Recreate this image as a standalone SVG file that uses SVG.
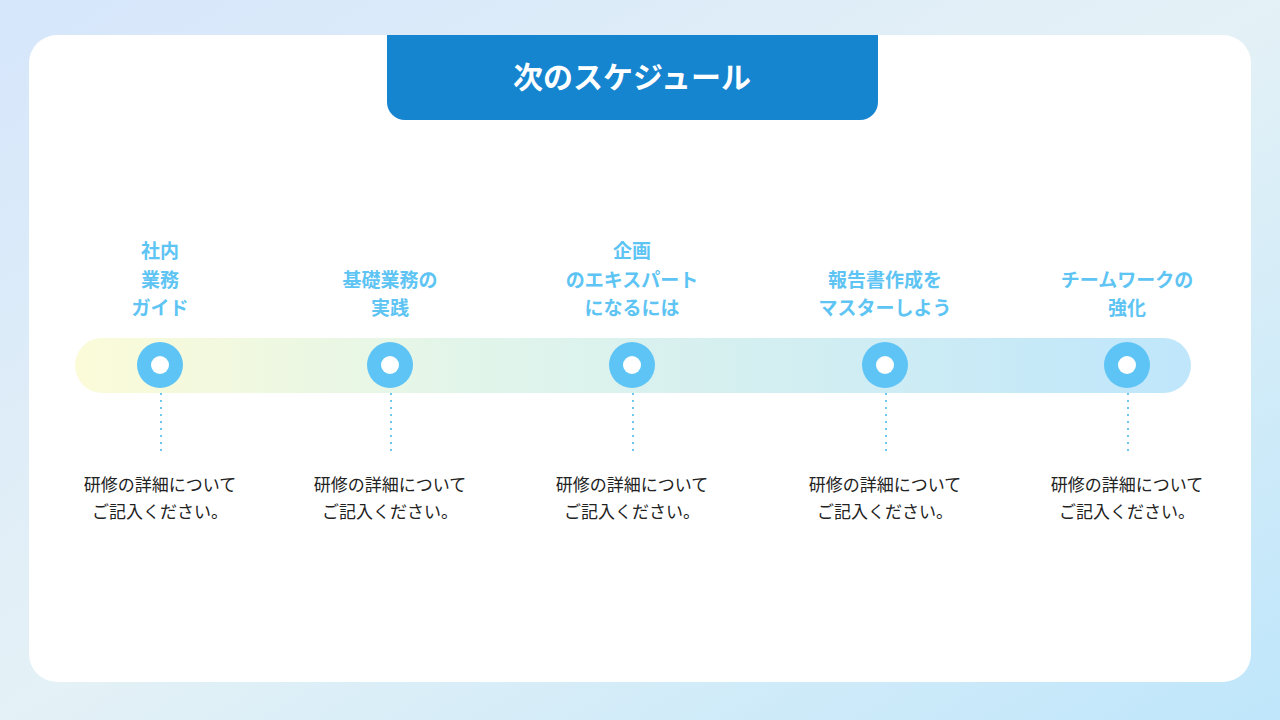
<svg xmlns="http://www.w3.org/2000/svg" width="1280" height="720" viewBox="0 0 1280 720">
<defs>
<linearGradient id="bg" x1="0" y1="0" x2="1" y2="1"><stop offset="0" stop-color="#d6e6fb"/><stop offset="0.5" stop-color="#e4f1f6"/><stop offset="1" stop-color="#bfe6fb"/></linearGradient>
<linearGradient id="band" x1="0" y1="0" x2="1" y2="0"><stop offset="0" stop-color="#fbfbd8"/><stop offset="0.35" stop-color="#e2f5ea"/><stop offset="1" stop-color="#bfe6fb"/></linearGradient>
<style>
.t{font-family:"Noto Sans CJK JP",sans-serif;font-weight:700;font-size:19px;fill:#5ec4f3;text-anchor:middle}
.d{font-family:"Noto Sans CJK JP",sans-serif;font-size:17px;fill:#222;text-anchor:middle}
.dot{stroke:#6cc8ef;stroke-width:2;stroke-dasharray:2 5}
</style>
</defs>
<rect width="1280" height="720" fill="url(#bg)"/>
<rect x="29" y="35" width="1222" height="647" rx="28" fill="#fff"/>
<path d="M387 35 H878 V102 a18 18 0 0 1 -18 18 H405 a18 18 0 0 1 -18 -18 Z" fill="#1585d0"/>
<text x="632" y="88" font-family="Noto Sans CJK JP,sans-serif" font-weight="700" font-size="30" fill="#fff" text-anchor="middle">次のスケジュール</text>
<rect x="75" y="338" width="1116" height="55" rx="27.5" fill="url(#band)"/>
<g id="connectors">
<line class="dot" x1="161" y1="393" x2="161" y2="455"/>
<line class="dot" x1="391" y1="393" x2="391" y2="455"/>
<line class="dot" x1="633" y1="393" x2="633" y2="455"/>
<line class="dot" x1="886" y1="393" x2="886" y2="455"/>
<line class="dot" x1="1128" y1="393" x2="1128" y2="455"/>
</g>
<g id="n1"><text class="t" x="160" y="258">社内</text><text class="t" x="160" y="287">業務</text><text class="t" x="160" y="315">ガイド</text><circle cx="160" cy="365" r="23" fill="#5ec4f6"/><circle cx="160" cy="365" r="9" fill="#fff"/><text class="d" x="160" y="491">研修の詳細について</text><text class="d" x="160" y="518">ご記入ください。</text></g>
<g id="n2"><text class="t" x="390" y="287">基礎業務の</text><text class="t" x="390" y="315">実践</text><circle cx="390" cy="365" r="23" fill="#5ec4f6"/><circle cx="390" cy="365" r="9" fill="#fff"/><text class="d" x="390" y="491">研修の詳細について</text><text class="d" x="390" y="518">ご記入ください。</text></g>
<g id="n3"><text class="t" x="632" y="258">企画</text><text class="t" x="632" y="287">のエキスパート</text><text class="t" x="632" y="315">になるには</text><circle cx="632" cy="365" r="23" fill="#5ec4f6"/><circle cx="632" cy="365" r="9" fill="#fff"/><text class="d" x="632" y="491">研修の詳細について</text><text class="d" x="632" y="518">ご記入ください。</text></g>
<g id="n4"><text class="t" x="885" y="287">報告書作成を</text><text class="t" x="885" y="315">マスターしよう</text><circle cx="885" cy="365" r="23" fill="#5ec4f6"/><circle cx="885" cy="365" r="9" fill="#fff"/><text class="d" x="885" y="491">研修の詳細について</text><text class="d" x="885" y="518">ご記入ください。</text></g>
<g id="n5"><text class="t" x="1127" y="287">チームワークの</text><text class="t" x="1127" y="315">強化</text><circle cx="1127" cy="365" r="23" fill="#5ec4f6"/><circle cx="1127" cy="365" r="9" fill="#fff"/><text class="d" x="1127" y="491">研修の詳細について</text><text class="d" x="1127" y="518">ご記入ください。</text></g>
</svg>
